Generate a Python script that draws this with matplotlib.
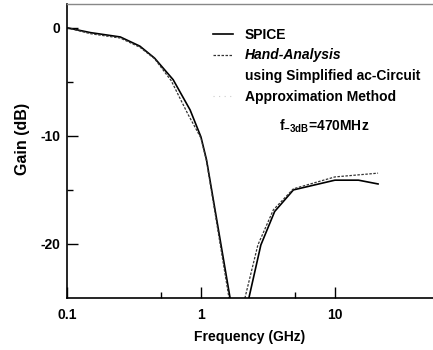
import numpy as np
import matplotlib

matplotlib.use('Agg')
import matplotlib.pyplot as plt
from matplotlib.lines import Line2D
from matplotlib.ticker import FixedLocator, NullFormatter

plt.rcParams['font.family'] = ['Liberation Sans', 'DejaVu Sans']
plt.rcParams['font.weight'] = 'bold'
plt.rcParams['mathtext.fontset'] = 'custom'
plt.rcParams['mathtext.rm'] = 'Liberation Sans:bold'
plt.rcParams['mathtext.default'] = 'rm'

# SPICE simulation (GHz, dB)
f_spice = [0.1, 0.15, 0.25, 0.35, 0.45, 0.62, 0.83, 1.0, 1.1, 1.65, 1.9,
           2.28, 2.8, 3.55, 4.9, 10, 15, 21]
g_spice = [0, -0.45, -0.85, -1.7, -2.8, -4.8, -7.6, -10.1, -12.2, -25, -29.3,
           -25, -20.1, -17.0, -15.0, -14.1, -14.1, -14.45]

# Hand-analysis
f_hand = [0.1, 0.15, 0.25, 0.35, 0.45, 0.6, 0.8, 1.0, 1.1, 1.62, 1.84,
          2.13, 2.66, 3.47, 4.9, 10, 21]
g_hand = [0, -0.55, -0.95, -1.8, -2.85, -4.9, -8.0, -10.2, -12.3, -25, -28.2,
          -25, -20.1, -16.85, -14.9, -13.8, -13.45]

fig = plt.figure(figsize=(4.33, 3.5), dpi=100)
ax = fig.add_axes([0.1547, 0.1486, 0.8453, 0.84])

ax.plot(f_spice, g_spice, color='black', lw=1.2, solid_joinstyle='round')
ax.plot(f_hand, g_hand, color='#333333', lw=0.9, ls=(0, (2, 1.2)))

ax.set_xscale('log')
ax.set_xlim(0.1, 54)
ax.set_ylim(-25, 2.2)

ax.xaxis.set_major_locator(FixedLocator([0.1, 1, 10]))
ax.xaxis.set_minor_locator(FixedLocator([0.5, 5]))
ax.xaxis.set_minor_formatter(NullFormatter())
ax.set_xticklabels(['0.1', '1', '10'])
ax.yaxis.set_major_locator(FixedLocator([0, -10, -20]))
ax.yaxis.set_minor_locator(FixedLocator([-5, -15]))
ax.set_yticklabels(['0', '-10', '-20'])

ax.tick_params(which='major', direction='in', length=8, width=1.0,
               labelsize=10, pad=5)
ax.tick_params(which='minor', direction='in', length=4, width=1.0)
ax.tick_params(axis='x', pad=7)

ax.spines['right'].set_visible(False)
ax.spines['top'].set_color('#888888')
ax.spines['top'].set_linewidth(1.0)
ax.spines['left'].set_linewidth(1.2)
ax.spines['bottom'].set_linewidth(1.2)

ax.set_xlabel('Frequency (GHz)', fontsize=10, fontweight='bold', labelpad=6)
ax.set_ylabel('Gain (dB)', fontsize=11.5, fontweight='bold')
ax.yaxis.set_label_coords(-0.10, 0.541)

handles = [
    Line2D([], [], color='black', lw=1.2),
    Line2D([], [], color='#333333', lw=0.9, ls=(0, (2, 1.2))),
    Line2D([], [], color='none'),
    Line2D([], [], color='#cccccc', lw=0.8, ls=(0, (1, 4))),
]
labels = ['SPICE', 'Hand-Analysis', 'using Simplified ac-Circuit',
          'Approximation Method']
leg = ax.legend(handles, labels, loc='upper left',
                bbox_to_anchor=(0.399, 0.92), frameon=False,
                fontsize=10, handlelength=1.45, handletextpad=0.85,
                labelspacing=0.5, borderpad=0, borderaxespad=0)
leg.get_texts()[1].set_fontstyle('italic')

ax.text(0.58, 0.57, r'f$_{-3dB}$=470MHz', transform=ax.transAxes,
        fontsize=10, fontweight='bold')

fig.savefig('out.png', dpi=100)
